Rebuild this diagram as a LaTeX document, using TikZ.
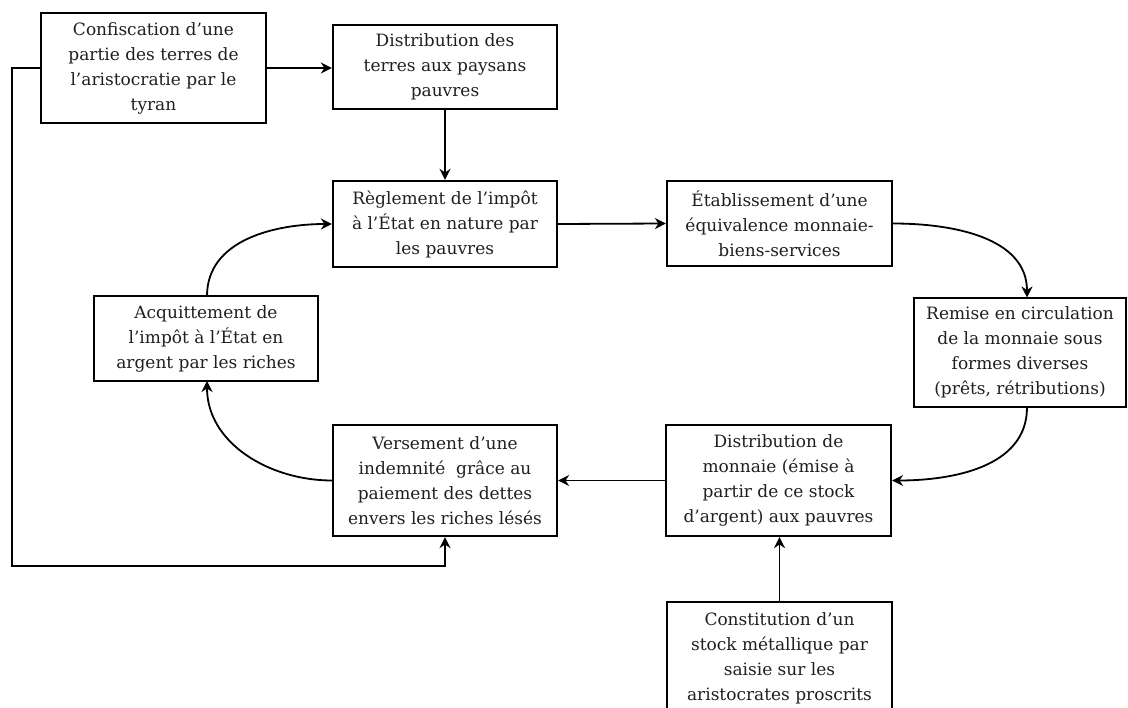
\documentclass[tikz,border=0pt]{standalone}
\usepackage{fontspec}
\setmainfont{DejaVu Serif}
\usetikzlibrary{arrows.meta}
\begin{document}
\begin{tikzpicture}[x=1pt,y=-1pt,
  box/.style={draw,line width=2.2pt,rectangle,align=center,inner sep=0pt,
    font=\fontsize{17}{25}\selectfont,text=black!88},
  arr/.style={line width=1.8pt,-{Stealth[length=11pt,width=11pt,inset=3.5pt]}}]
\useasboundingbox (0,0) rectangle (1128,708);
\node[box,minimum width=225,minimum height=110] (A) at (153.5,68) {Confiscation d’une\\partie des terres de\\l’aristocratie par le\\tyran};
\node[box,minimum width=224,minimum height=84] (B) at (445,67) {Distribution des\\terres aux paysans\\pauvres};
\node[box,minimum width=224,minimum height=86] (C) at (445,224) {Règlement de l’impôt\\à l’État en nature par\\les pauvres};
\node[box,minimum width=225,minimum height=85] (D) at (779.5,223.5) {Établissement d’une\\équivalence monnaie-\\biens-services};
\node[box,minimum width=212,minimum height=109] (E) at (1020,352.5) {Remise en circulation\\de la monnaie sous\\formes diverses\\(prêts, rétributions)};
\node[box,minimum width=224,minimum height=85] (H) at (206,338.5) {Acquittement de\\l’impôt à l’État en\\argent par les riches};
\node[box,minimum width=224,minimum height=111] (G) at (445,480.5) {Versement d’une\\indemnité\ \ grâce au\\paiement des dettes\\envers les riches lésés};
\node[box,minimum width=225,minimum height=111] (F) at (778.5,480.5) {Distribution de\\monnaie (émise à\\partir de ce stock\\d’argent) aux pauvres};
\node[box,minimum width=225,minimum height=112] (I) at (779.5,658) {Constitution d’un\\stock métallique par\\saisie sur les\\aristocrates proscrits};
\coordinate (fb1) at (12,68);
\coordinate (fb2) at (12,566);
\coordinate (Et) at (1027,297.5);
\coordinate (Eb) at (1027,407.5);
\coordinate (Hb) at (207,381);
\coordinate (Ht) at (207,296);
\draw[arr] (A.east) -- (B.west |- A.east);
\draw[arr] (B.south) -- (C.north);
\draw[arr] (C.east) -- (D.west);
\draw[arr] (D.east) to[out=0,in=90] (Et);
\draw[arr] (Eb) to[out=-90,in=0] (F.east);
\draw[arr] (F.west) -- (G.east);
\draw[arr] (G.west) to[out=180,in=-90] (Hb);
\draw[arr] (Ht) to[out=90,in=180] (C.west);
\draw[arr] (I.north) -- (F.south -| I.north);
\draw[arr] (A.west) -- (fb1) -- (fb2) -| (G.south);
\end{tikzpicture}
\end{document}
